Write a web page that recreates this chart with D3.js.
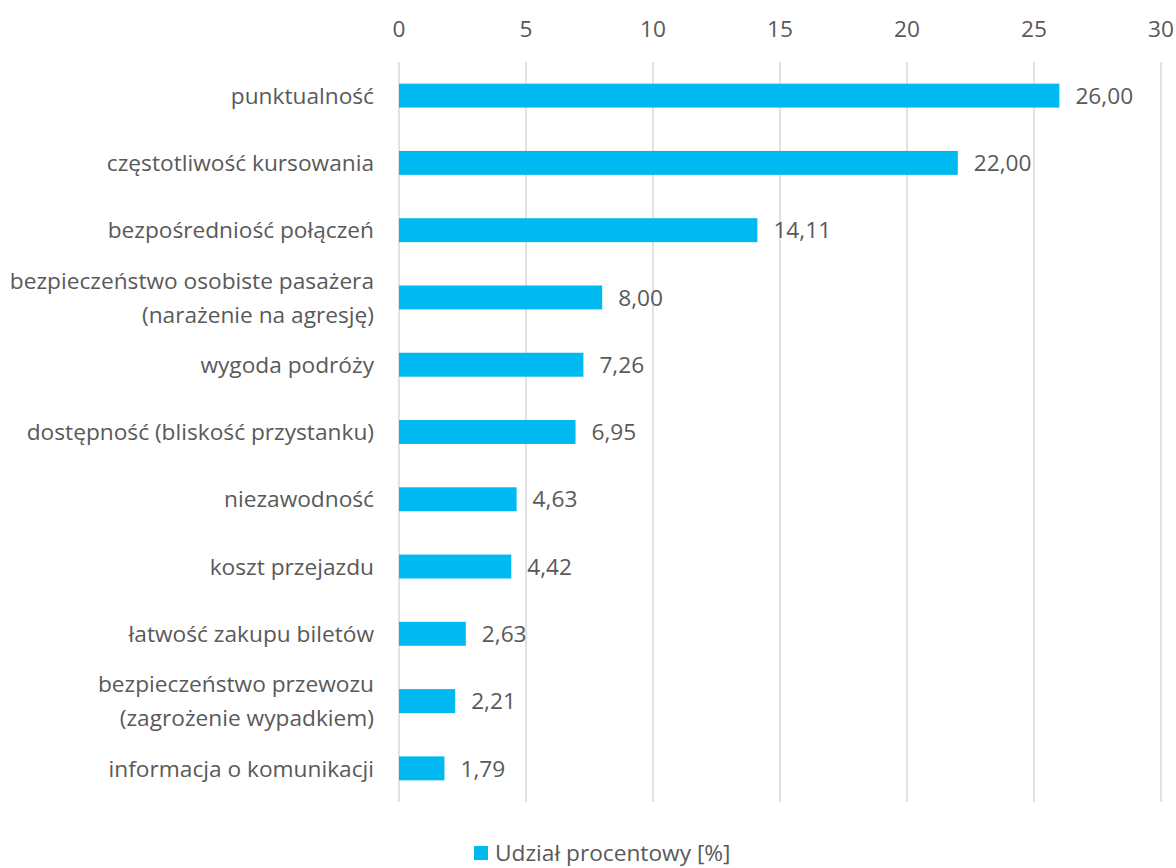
<!DOCTYPE html>
<html>
<head>
<meta charset="utf-8">
<script src="https://cdn.jsdelivr.net/npm/d3@7"></script>
<style>
	body { margin: 0; background: #fff; }
	text { font-family: 'Open Sans', sans-serif; fill: #595959; }
</style>
</head>
<body>
<div class="chart"></div>
<script>
// data
let categories = [
	['punktualność'],
	['częstotliwość kursowania'],
	['bezpośredniość połączeń'],
	['bezpieczeństwo osobiste pasażera', '(narażenie na agresję)'],
	['wygoda podróży'],
	['dostępność (bliskość przystanku)'],
	['niezawodność'],
	['koszt przejazdu'],
	['łatwość zakupu biletów'],
	['bezpieczeństwo przewozu', '(zagrożenie wypadkiem)'],
	['informacja o komunikacji']
];
let values = [26.0, 22.0, 14.11, 8.0, 7.26, 6.95, 4.63, 4.42, 2.63, 2.21, 1.79];
let ticks = [0, 5, 10, 15, 20, 25, 30];
let seriesName = 'Udział procentowy [%]';

let w = 1176;
let h = 868;
let fontSize = 22.7;

let svg = d3.select('.chart').append('svg').attr('width', w).attr('height', h);

let xScale = d3.scaleLinear().domain([0, 30]).range([399, 1161]);
let yScale = d3.scaleBand()
	.domain(d3.range(values.length))
	.range([62, 802])
	.paddingInner(0.644)
	.paddingOuter(0.322);

// gridlines
svg.append('g')
	.selectAll('line')
	.data(ticks)
	.enter()
	.append('line')
	.attr('x1', d => xScale(d))
	.attr('x2', d => xScale(d))
	.attr('y1', 62)
	.attr('y2', 802)
	.attr('stroke', '#d9d9d9')
	.attr('stroke-width', 1.5);

// top axis labels
svg.append('g')
	.selectAll('text')
	.data(ticks)
	.enter()
	.append('text')
	.attr('x', d => xScale(d))
	.attr('y', 37)
	.attr('text-anchor', 'middle')
	.attr('font-size', fontSize)
	.text(d => d);

// bars
svg.append('g')
	.selectAll('rect')
	.data(values)
	.enter()
	.append('rect')
	.attr('x', xScale(0))
	.attr('y', (d, i) => yScale(i))
	.attr('width', d => xScale(d) - xScale(0))
	.attr('height', yScale.bandwidth())
	.attr('fill', '#00b9f1');

// value labels
svg.append('g')
	.selectAll('text')
	.data(values)
	.enter()
	.append('text')
	.attr('x', d => xScale(d) + 16)
	.attr('y', (d, i) => yScale(i) + yScale.bandwidth() / 2)
	.attr('dy', '0.36em')
	.attr('font-size', fontSize)
	.text(d => d.toFixed(2).replace('.', ','));

// category labels
let lineH = 34;
svg.append('g')
	.selectAll('text')
	.data(categories)
	.enter()
	.append('text')
	.attr('x', 374)
	.attr('y', (d, i) => yScale(i) + yScale.bandwidth() / 2 - (d.length - 1) * lineH / 2)
	.attr('text-anchor', 'end')
	.attr('font-size', fontSize)
	.each(function(d) {
		d3.select(this)
			.selectAll('tspan')
			.data(d)
			.enter()
			.append('tspan')
			.attr('x', 374)
			.attr('dy', (t, j) => j === 0 ? '0.36em' : lineH)
			.text(t => t);
	});

// legend
let legend = svg.append('g');
legend.append('rect')
	.attr('x', 474)
	.attr('y', 846)
	.attr('width', 14)
	.attr('height', 14)
	.attr('fill', '#00b9f1');
legend.append('text')
	.attr('x', 495)
	.attr('y', 861)
	.attr('font-size', fontSize)
	.text(seriesName);
</script>
</body>
</html>
